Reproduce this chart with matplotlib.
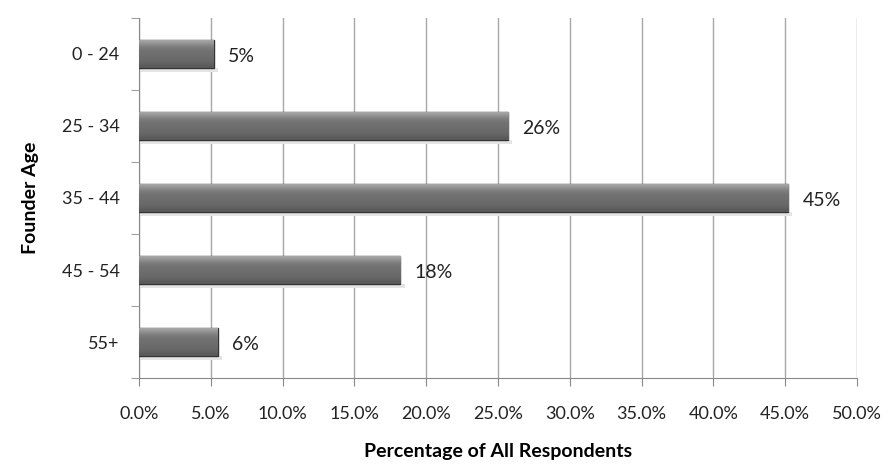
import numpy as np
import matplotlib
matplotlib.use("Agg")
import matplotlib.pyplot as plt
from matplotlib.ticker import FuncFormatter, FixedLocator

# founder age groups and share of respondents (%)
age_groups = ["0 - 24", "25 - 34", "35 - 44", "45 - 54", "55+"]
shares = [5.2, 25.7, 45.2, 18.2, 5.5]
bar_labels = ["5%", "26%", "45%", "18%", "6%"]

plt.rcParams["font.family"] = ["Lato", "DejaVu Sans"]

fig = plt.figure(figsize=(8.88, 4.73), dpi=100)
ax = fig.add_axes([0.1565, 0.2008, 0.8085, 0.7612])

y = np.arange(len(age_groups))
bars = ax.barh(y, shares, height=0.4, color="#6e6e6e", edgecolor="#333333",
               linewidth=1.0, zorder=3)

# vertical gradient to mimic the bevelled look
grad = np.array([0.66, 0.58, 0.50, 0.46, 0.44, 0.43, 0.42, 0.41, 0.39, 0.34]).reshape(-1, 1)
for b in bars:
    x0, y0 = b.get_x(), b.get_y()
    w, h = b.get_width(), b.get_height()
    # soft shadow under each bar
    ax.add_patch(plt.Rectangle((x0, y0 + h), w + 0.3, 0.05, color="#e4e4e4",
                               zorder=2, linewidth=0))
    im = ax.imshow(grad, cmap="gray", vmin=0, vmax=1, aspect="auto",
                   extent=(x0, x0 + w, y0 + h, y0), zorder=3.5,
                   interpolation="bicubic")
    im.set_clip_path(b)

for yi, v, lab in zip(y, shares, bar_labels):
    ax.text(v + 1.0, yi + 0.04, lab, va="center", ha="left", fontsize=14, color="#222222")

ax.set_xlim(0, 50)
ax.set_ylim(len(age_groups) - 0.5, -0.5)
ax.xaxis.set_major_locator(FixedLocator(np.arange(0, 51, 5)))
ax.xaxis.set_major_formatter(FuncFormatter(lambda v, p: f"{v:.1f}%"))
ax.set_yticks(y)
ax.set_yticklabels(age_groups)
ax.yaxis.set_minor_locator(FixedLocator(np.arange(-0.5, len(age_groups), 1.0)))
ax.tick_params(axis="y", which="major", length=0, pad=14, labelsize=13, labelcolor="#222222")
ax.tick_params(axis="y", which="minor", length=6, color="#888888")
ax.tick_params(axis="x", length=6, color="#888888", pad=14, labelsize=13, labelcolor="#222222")

ax.grid(axis="x", color="#a8a8a8", linewidth=1.0, zorder=0)
ax.set_axisbelow(True)
for s in ["top", "right"]:
    ax.spines[s].set_visible(False)
ax.spines["left"].set_color("#888888")
ax.spines["bottom"].set_color("#888888")

ax.set_xlabel("Percentage of All Respondents", fontsize=14, fontweight="bold", labelpad=15)
ax.set_ylabel("Founder Age", fontsize=14, fontweight="bold", labelpad=16)

fig.savefig("out.png", dpi=100)
